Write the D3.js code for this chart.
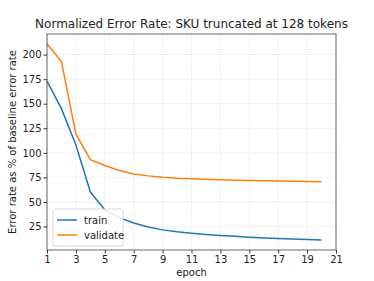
<!DOCTYPE html>
<html>
<head>
<meta charset="utf-8">
<script src="https://cdn.jsdelivr.net/npm/d3@7"></script>
<style>
  body { margin: 0; background: #fff; }
  text { font-family: "DejaVu Sans", sans-serif; fill: #222; }
</style>
</head>
<body>
<div id="chart-area"></div>
<script>
var epochs = [1,2,3,4,5,6,7,8,9,10,11,12,13,14,15,16,17,18,19,20];
var train = [173,145,108,60,42,34,28.5,24.5,21.5,19.5,18,16.8,15.8,15,14,13.3,12.7,12.2,11.8,11.3];
var validate = [211,193,119,93,87,82,78.5,76.5,75,74,73.5,73,72.5,72,71.8,71.5,71.2,71,70.8,70.6];
var x_ticks = [1,3,5,7,9,11,13,15,17,19,21];
var y_ticks = [25,50,75,100,125,150,175,200];

var width = 374, height = 281;
// plot area edges (note: "top" is taken by window.top)
var m_left = 47, m_right = 336, m_top = 34, m_bottom = 250;

var svg = d3.select("#chart-area").append("svg")
	.attr("width", width)
	.attr("height", height);

var x = d3.scaleLinear().domain([1, 21]).range([m_left, m_right]);
var y = d3.scaleLinear().domain([1, 221]).range([m_bottom, m_top]);

// grid
svg.append("g").selectAll("line").data(x_ticks).enter().append("line")
	.attr("x1", function(d){ return x(d); })
	.attr("x2", function(d){ return x(d); })
	.attr("y1", m_top).attr("y2", m_bottom)
	.style("stroke", "#d8d8d8").style("stroke-width", 0.8)
	.style("stroke-dasharray", "1,1.5");
svg.append("g").selectAll("line").data(y_ticks).enter().append("line")
	.attr("y1", function(d){ return y(d); })
	.attr("y2", function(d){ return y(d); })
	.attr("x1", m_left).attr("x2", m_right)
	.style("stroke", "#d8d8d8").style("stroke-width", 0.8)
	.style("stroke-dasharray", "1,1.5");

// lines
var line = d3.line()
	.x(function(d){ return x(d[0]); })
	.y(function(d){ return y(d[1]); });

svg.append("path")
	.datum(epochs.map(function(e, i){ return [e, train[i]]; }))
	.attr("d", line)
	.style("fill", "none").style("stroke", "#1f77b4").style("stroke-width", 1.5);

svg.append("path")
	.datum(epochs.map(function(e, i){ return [e, validate[i]]; }))
	.attr("d", line)
	.style("fill", "none").style("stroke", "#ff7f0e").style("stroke-width", 1.5);

// axes
var xAxis = d3.axisBottom(x).tickValues(x_ticks).tickSize(3.5).tickPadding(2).tickFormat(d3.format("d"));
var yAxis = d3.axisLeft(y).tickValues(y_ticks).tickSize(3.5).tickPadding(2).tickFormat(d3.format("d"));

var gx = svg.append("g").attr("transform", "translate(0," + m_bottom + ")").call(xAxis);
var gy = svg.append("g").attr("transform", "translate(" + m_left + ",0)").call(yAxis);
[gx, gy].forEach(function(g){
	g.select(".domain").remove();
	g.selectAll("line").style("stroke", "#333");
	g.selectAll("text").style("font-size", "10px").style("fill", "#222").style("font-family", "DejaVu Sans");
});

// frame
svg.append("rect")
	.attr("x", m_left).attr("y", m_top)
	.attr("width", m_right - m_left).attr("height", m_bottom - m_top)
	.style("fill", "none").style("stroke", "#444").style("stroke-width", 0.8);

// legend
var lg = svg.append("g").attr("transform", "translate(53,209)");
lg.append("rect").attr("width", 70).attr("height", 37).attr("rx", 2)
	.style("fill", "#fff").style("fill-opacity", 0.85)
	.style("stroke", "#ccc").style("stroke-width", 0.8);
var names = ["train", "validate"];
var colors = ["#1f77b4", "#ff7f0e"];
names.forEach(function(n, i){
	lg.append("line").attr("x1", 4).attr("x2", 24)
		.attr("y1", 11 + i * 15).attr("y2", 11 + i * 15)
		.style("stroke", colors[i]).style("stroke-width", 1.5);
	lg.append("text").attr("x", 31).attr("y", 15 + i * 15)
		.style("font-size", "10px").text(n);
});

// titles
svg.append("text")
	.attr("x", (m_left + m_right) / 2).attr("y", 28)
	.attr("text-anchor", "middle")
	.style("font-size", "12px")
	.text("Normalized Error Rate: SKU truncated at 128 tokens");

svg.append("text")
	.attr("x", (m_left + m_right) / 2).attr("y", 276)
	.attr("text-anchor", "middle")
	.style("font-size", "10px")
	.text("epoch");

svg.append("text")
	.attr("transform", "translate(16," + ((m_top + m_bottom) / 2) + ") rotate(-90)")
	.attr("text-anchor", "middle")
	.style("font-size", "10px")
	.text("Error rate as % of baseline error rate");
</script>
</body>
</html>
